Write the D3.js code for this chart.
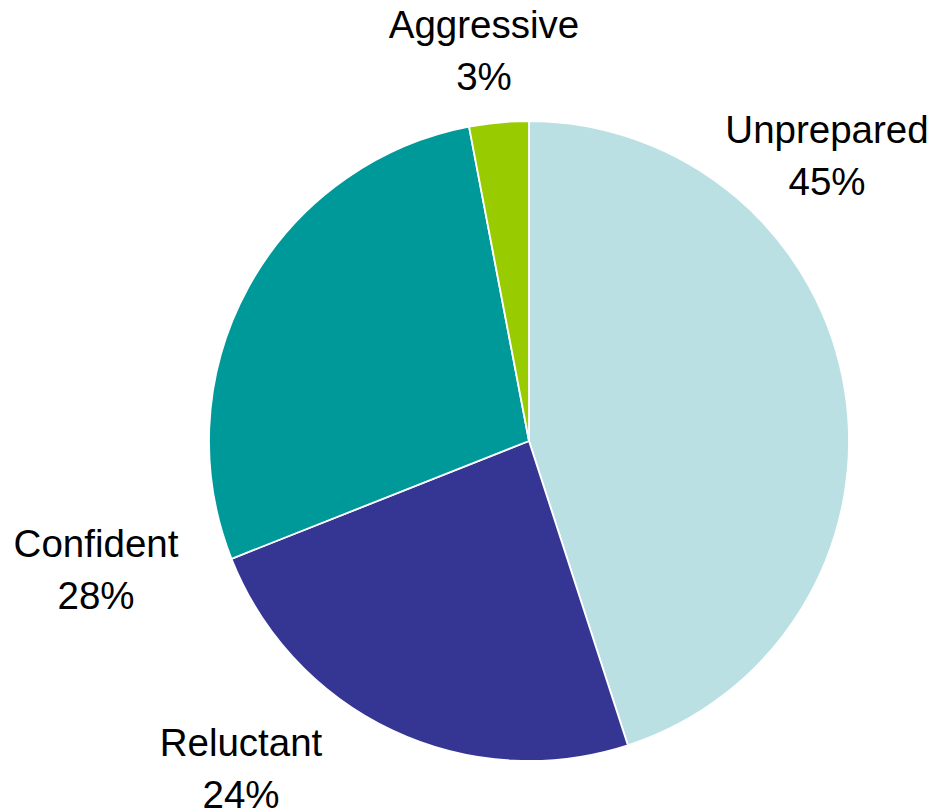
<!DOCTYPE html>
<html>
<head>
<meta charset="utf-8">
<script src="https://cdn.jsdelivr.net/npm/d3@7"></script>
<style>
  body { margin: 0; background: #fff; }
  text { font-family: "Liberation Sans", Arial, sans-serif; fill: #000; }
</style>
</head>
<body>
<div id="chart"></div>
<script>
var categories = ["Unprepared", "Reluctant", "Confident", "Aggressive"];
var values = [45, 24, 28, 3];
var colors = ["#bae0e3", "#353594", "#009999", "#99cc00"];

var w = 934, h = 812;
var cx = 529, cy = 441, r = 320;

// where each label block sits (centre x, first baseline y)
var labelPos = {
  "Unprepared": [827, 143],
  "Reluctant": [241, 756],
  "Confident": [96, 557],
  "Aggressive": [484, 38]
};

var data = categories.map(function(c, i) {
  return { name: c, value: values[i], color: colors[i] };
});

var svg = d3.select("#chart")
    .append("svg")
    .attr("width", w)
    .attr("height", h);

var pie = d3.pie()
    .sort(null)
    .value(function(d) { return d.value; });

var arc = d3.arc()
    .innerRadius(0)
    .outerRadius(r);

var g = svg.append("g")
    .attr("transform", "translate(" + cx + "," + cy + ")");

g.selectAll("path")
    .data(pie(data))
    .enter()
    .append("path")
    .attr("d", arc)
    .style("fill", function(d) { return d.data.color; })
    .style("stroke", "#fff")
    .style("stroke-width", 1.8);

var total = d3.sum(values);

var labels = svg.selectAll("text.lbl")
    .data(data)
    .enter()
    .append("text")
    .attr("class", "lbl")
    .attr("text-anchor", "middle")
    .style("font-size", "38.5px");

labels.append("tspan")
    .attr("x", function(d) { return labelPos[d.name][0]; })
    .attr("y", function(d) { return labelPos[d.name][1]; })
    .text(function(d) { return d.name; });

labels.append("tspan")
    .attr("x", function(d) { return labelPos[d.name][0]; })
    .attr("y", function(d) { return labelPos[d.name][1] + 52; })
    .text(function(d) { return Math.round(d.value / total * 100) + "%"; });
</script>
</body>
</html>
